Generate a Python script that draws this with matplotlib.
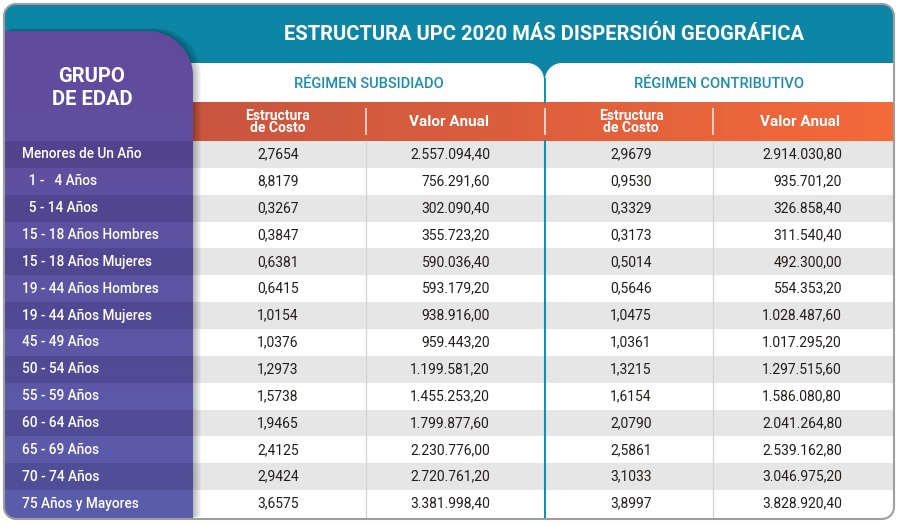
import matplotlib
matplotlib.use("Agg")
import matplotlib.pyplot as plt
import numpy as np
from matplotlib.patches import Polygon, Rectangle
from matplotlib.colors import to_rgb

# ---------------- data ----------------
title = "ESTRUCTURA UPC 2020 MÁS DISPERSIÓN GEOGRÁFICA"
group_header = "GRUPO\nDE EDAD"
regimes = ["RÉGIMEN SUBSIDIADO", "RÉGIMEN CONTRIBUTIVO"]
col_headers = ["Estructura\nde Costo", "Valor Anual"]

groups = [
    "Menores de Un Año", "  1 -   4 Años", "  5 - 14 Años",
    "15 - 18 Años Hombres", "15 - 18 Años Mujeres",
    "19 - 44 Años Hombres", "19 - 44 Años Mujeres",
    "45 - 49 Años", "50 - 54 Años", "55 - 59 Años", "60 - 64 Años",
    "65 - 69 Años", "70 - 74 Años", "75 Años y Mayores",
]
sub_estructura = [2.7654, 8.8179, 0.3267, 0.3847, 0.6381, 0.6415, 1.0154,
                  1.0376, 1.2973, 1.5738, 1.9465, 2.4125, 2.9424, 3.6575]
sub_valor = [2557094.40, 756291.60, 302090.40, 355723.20, 590036.40,
             593179.20, 938916.00, 959443.20, 1199581.20, 1455253.20,
             1799877.60, 2230776.00, 2720761.20, 3381998.40]
con_estructura = [2.9679, 0.9530, 0.3329, 0.3173, 0.5014, 0.5646, 1.0475,
                  1.0361, 1.3215, 1.6154, 2.0790, 2.5861, 3.1033, 3.8997]
con_valor = [2914030.80, 935701.20, 326858.40, 311540.40, 492300.00,
             554353.20, 1028487.60, 1017295.20, 1297515.60, 1586080.80,
             2041264.80, 2539162.80, 3046975.20, 3828920.40]


def fmt(v, nd):
    s = f"{v:,.{nd}f}"
    return s.replace(",", "X").replace(".", ",").replace("X", ".")


def rounded_poly(x0, y0, x1, y1, r_tl=0, r_tr=0, r_br=0, r_bl=0, n=24):
    """Closed polygon of a rectangle (y downward) with per-corner radii."""
    pts = []

    def arc(cx, cy, r, a0, a1):
        if r <= 0:
            pts.append((cx, cy))
            return
        for t in np.linspace(np.radians(a0), np.radians(a1), n):
            pts.append((cx + r * np.cos(t), cy + r * np.sin(t)))

    arc(x0 + r_tl, y0 + r_tl, r_tl, 180, 270)
    arc(x1 - r_tr, y0 + r_tr, r_tr, 270, 360)
    arc(x1 - r_br, y1 - r_br, r_br, 0, 90)
    arc(x0 + r_bl, y1 - r_bl, r_bl, 90, 180)
    return np.array(pts)


FONT = ["Roboto", "DejaVu Sans"]
plt.rcParams["font.family"] = FONT

W, H = 900, 526
fig = plt.figure(figsize=(W / 100, H / 100), dpi=100)
ax = fig.add_axes([0, 0, 1, 1])

L, T, R, B = 4, 4, 894, 519
PX = 193            # right edge of the purple panel
XS = [PX, 366, 544.5, 713, R]   # column boundaries
HDR_TOP, HDR_BOT = 102, 141
ROW_BOT = 517
n_rows = len(groups)
row_h = (ROW_BOT - HDR_BOT) / n_rows

teal = "#0C86A4"
teal_text = "#1A8EB0"
val_color = "#221D1B"

card = Polygon(rounded_poly(L, T, R, B, 12, 12, 12, 12), closed=True,
               fc="white", ec="none", zorder=0)
ax.add_patch(card)


def clip(a, p=card):
    a.set_clip_path(p)
    return a


# teal header
ax.add_patch(clip(Rectangle((0, 0), W, 130, fc=teal, ec="none", zorder=1)))
# white regime band with notch
ax.add_patch(clip(Polygon(rounded_poly(150, 63, 544, 160, 0, 17, 0, 0),
                          fc="white", ec="none", zorder=2)))
ax.add_patch(clip(Polygon(rounded_poly(545, 63, 930, 160, 17, 0, 0, 0),
                          fc="white", ec="none", zorder=2)))

# orange header gradient
c0, c1 = np.array(to_rgb("#C7553F")), np.array(to_rgb("#F46A3A"))
g = np.linspace(0, 1, 256)[None, :, None]
grad = c0 + (c1 - c0) * g
im = ax.imshow(grad, extent=[PX - 20, R + 5, HDR_BOT, HDR_TOP], origin="upper",
               aspect="auto", zorder=3, interpolation="bilinear")
clip(im)

# body rows
for i in range(n_rows):
    y0 = HDR_BOT + i * row_h
    if i % 2 == 0:
        ax.add_patch(clip(Rectangle((PX, y0), R - PX + 5, row_h,
                                    fc="#E6E6E6", ec="none", zorder=3)))

# separators
for x in (XS[1], XS[3]):
    ax.plot([x, x], [HDR_BOT, ROW_BOT], color="#D2D2D2", lw=0.9, zorder=4)
for x in (XS[1], XS[2], XS[3]):
    ax.plot([x, x], [109, 134], color="white", lw=1.3, alpha=0.75, zorder=4)
ax.plot([XS[2], XS[2]], [79, HDR_TOP], color=teal_text, lw=1.5, zorder=4)
ax.plot([XS[2], XS[2]], [HDR_BOT, B], color=teal_text, lw=1.5, zorder=4)

# purple panel shadow
pshape = rounded_poly(L, 31, PX, B, 0, 45, 0, 12)
for k in range(1, 9):
    sh = pshape + np.array([k * 1.0, -k * 0.35])
    ax.add_patch(clip(Polygon(sh, fc="black", ec="none", alpha=0.035,
                              zorder=5)))

# purple panel
purple = Polygon(pshape, closed=True, fc="none", ec="none", zorder=6)
ax.add_patch(clip(purple))
p0, p1 = np.array(to_rgb("#614A9B")), np.array(to_rgb("#5A5DAB"))
gv = np.linspace(0, 1, 256)[:, None, None]
pgrad = p0 + (p1 - p0) * gv
pim = ax.imshow(pgrad, extent=[L, PX, B, 31], origin="upper", aspect="auto",
                zorder=6, interpolation="bilinear")
pim.set_clip_path(purple)
for i in range(n_rows):
    if i % 2 == 0:
        y0 = HDR_BOT + i * row_h
        r = Rectangle((L, y0), PX - L, row_h, fc="#1a1040", ec="none",
                      alpha=0.17, zorder=7)
        ax.add_patch(r)
        r.set_clip_path(purple)

# ---------------- text ----------------
ax.text((PX + R) / 2 + 1, 34, title, ha="center", va="center", color="white",
        fontsize=14.5, fontweight="bold", zorder=10)
ax.text(92, 88, group_header, ha="center", va="center", color="white",
        fontsize=14.5, fontweight="bold", linespacing=1.3, zorder=10)

ax.text((XS[0] + XS[2]) / 2, 84, regimes[0], ha="center", va="center",
        color=teal_text, fontsize=10.5, fontweight="medium", zorder=10)
ax.text((XS[2] + XS[4]) / 2, 84, regimes[1], ha="center", va="center",
        color=teal_text, fontsize=10.5, fontweight="medium", zorder=10)

hc = (HDR_TOP + HDR_BOT) / 2
for xc, lab in zip([278, 449, 631, 800], col_headers * 2):
    two = "\n" in lab
    ax.text(xc, hc + 0.5, lab, ha="center", va="center", color="white",
            fontsize=10 if two else 11, fontweight="bold",
            linespacing=0.88, zorder=10)

for i in range(n_rows):
    yc = HDR_BOT + (i + 0.5) * row_h
    ax.text(22, yc, groups[i], ha="left", va="center", color="white",
            fontsize=9.8, fontweight="medium", zorder=10)
    ax.text(278, yc, fmt(sub_estructura[i], 4), ha="center", va="center",
            color=val_color, fontsize=10, zorder=10)
    ax.text(490, yc, fmt(sub_valor[i], 2), ha="right", va="center",
            color=val_color, fontsize=10, zorder=10)
    ax.text(631, yc, fmt(con_estructura[i], 4), ha="center", va="center",
            color=val_color, fontsize=10, zorder=10)
    ax.text(842, yc, fmt(con_valor[i], 2), ha="right", va="center",
            color=val_color, fontsize=10, zorder=10)

# card border
ax.add_patch(Polygon(rounded_poly(L, T, R, B, 12, 12, 12, 12), closed=True,
                     fill=False, ec="#9E9E9E", lw=1.5, zorder=20))

ax.set_xlim(0, W)
ax.set_ylim(H, 0)
ax.axis("off")
fig.savefig("out.png", dpi=100, facecolor="white")
